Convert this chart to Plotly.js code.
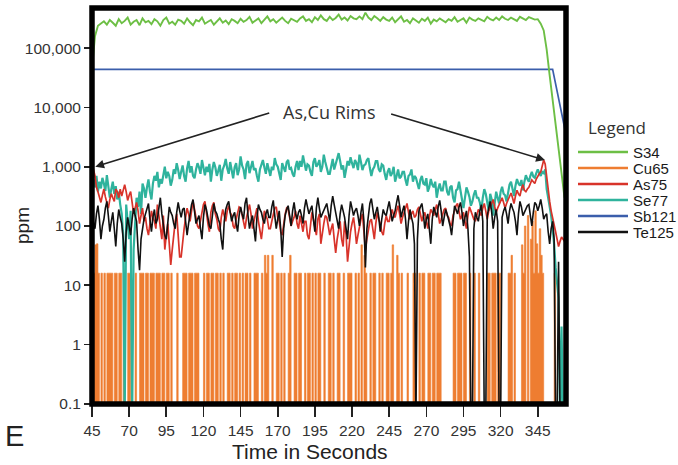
<!DOCTYPE html>
<html><head><meta charset="utf-8">
<script src="https://cdn.plot.ly/plotly-3.0.1.min.js"></script>
<style>html,body{margin:0;padding:0;background:#fff}#chart{width:678px;height:465px}</style>
</head><body><div id="chart"></div>
<script>
// ---------- DATA (ppm) ----------
// 2-second sampling grid 45..363 s (S34)
const time2s = Array.from({length:160}, (_, i) => 45 + 2*i);
// 1-second sampling grid 45..363 s (Cu65, As75, Se77, Te125)
const time1s = Array.from({length:319}, (_, i) => 45 + i);

const s34 = [
 45000,160000,240000,260000,285000,250000,300000,270000,240000,310000,
 265000,290000,330000,250000,280000,300000,245000,320000,275000,290000,
 255000,310000,285000,240000,300000,330000,260000,280000,250000,305000,
 290000,260000,320000,275000,245000,300000,285000,330000,260000,280000,
 300000,250000,285000,320000,270000,295000,255000,310000,290000,265000,
 315000,280000,300000,340000,270000,295000,320000,265000,300000,345000,
 285000,310000,270000,300000,330000,290000,265000,315000,300000,280000,
 320000,345000,290000,310000,275000,335000,300000,360000,310000,290000,
 340000,300000,325000,370000,305000,330000,295000,350000,320000,310000,
 345000,310000,400000,330000,300000,350000,320000,290000,335000,305000,
 290000,330000,275000,310000,345000,280000,300000,265000,320000,295000,
 270000,315000,290000,330000,260000,305000,285000,320000,300000,275000,
 310000,290000,335000,280000,300000,320000,270000,330000,305000,290000,
 320000,300000,285000,340000,310000,295000,330000,300000,345000,315000,
 300000,330000,310000,290000,340000,315000,300000,335000,320000,305000,
 310000,260000,200000,95000,35000,13000,5000,1900,700,300
];

const se77 = [
 520,610,450,700,380,560,430,650,520,390, 720,480,300,420,560,350,470,280,380,230,
 160,70,0.05,230,120,60,180,0.05,40,150, 300,210,380,160,520,430,300,450,610,380,
 280,520,700,580,820,450,620,520,760,1000, 640,820,700,480,600,900,760,1150,880,620,
 820,1050,700,560,940,1250,800,1020,700,640, 900,1150,980,760,1300,880,720,1000,820,1120,
 560,900,1200,980,700,860,1080,580,900,1050, 1350,940,760,1200,800,640,980,1150,720,900,
 1500,1050,900,620,1100,1250,780,980,1250,880, 950,700,560,900,1050,1300,980,760,1150,860,
 700,1000,880,1400,1100,1000,760,600,1150,920, 820,1200,1300,900,950,760,680,1000,1250,880,
 1250,1000,1550,1150,860,1100,1050,820,700,1200, 1400,1000,1100,1300,820,1000,1600,1200,980,760,
 760,1100,1350,900,1100,1400,1700,1250,900,1050, 650,900,1250,1050,1450,1150,950,1300,1150,880,
 1600,1200,880,1050,1100,1300,1400,950,700,900, 1000,1250,1250,900,820,1100,1050,760,600,820,
 950,700,780,1000,560,700,900,640,680,820, 820,600,480,700,740,900,560,700,650,520,
 420,600,700,520,500,640,380,450,620,500, 450,560,300,420,520,400,400,560,560,380,
 330,450,480,300,250,400,420,560,360,280, 200,330,450,380,310,220,260,340,400,300,
 300,250,180,300,420,350,260,180,350,280, 150,250,380,300,240,380,460,350,330,260,
 380,500,560,420,320,480,620,520,480,600, 400,560,720,620,560,700,820,680,650,780,
 900,780,700,820,780,900,420,300,220,150, 90,50,20,10,6,0.05,2,0.05,0.05
];

const as75 = [
 1050,900,700,450,380,300,250,330,420,310, 260,200,280,350,300,260,420,380,300,420,
 320,400,500,380,270,330,380,250,160,200, 250,180,110,150,200,120,140,90,70,110,
 180,140,120,90,230,150,90,60,150,40, 70,110,50,22,40,70,120,160,60,30,
 30,60,90,140,200,160,120,180,260,190, 140,100,90,130,180,230,260,150,110,80,
 170,220,250,160,130,90,80,140,190,150, 120,180,220,170,150,100,90,130,170,210,
 200,150,110,90,140,190,230,160,90,120, 160,200,120,90,60,100,180,150,130,90,
 90,120,150,200,210,140,120,80,70,110, 160,200,190,140,100,120,140,180,110,90,
 150,110,80,120,120,70,60,100,170,130, 100,70,130,160,50,80,110,150,140,100,
 70,90,110,60,35,60,90,120,60,45, 120,70,25,50,80,110,140,90,50,70,
 100,130,160,90,40,60,90,120,130,80, 60,110,170,130,110,80,70,110,150,120,
 120,160,190,150,140,180,220,160,110,140, 170,210,240,170,130,160,180,140,150,190,
 210,160,120,150,170,120,90,140,190,170, 150,190,230,160,110,130,160,190,200,150,
 140,110,100,150,180,220,240,170,130,150, 170,120,90,150,210,180,150,130,120,160,
 190,170,150,200,240,180,130,180,210,250, 280,210,170,200,230,280,300,250,200,240,
 280,320,360,300,240,320,400,350,320,420, 500,400,380,420,450,520,600,560,520,620,
 700,760,820,1000,1300,1100,650,400,260,180, 130,100,80,60,45,55,65,60,55
];

const te125 = [
 150,120,90,160,220,130,60,100,130,200, 260,150,80,120,170,90,45,110,190,140,
 110,60,25,80,140,100,70,130,200,150, 120,40,18,60,90,130,160,200,240,130,
 80,140,190,110,130,200,300,160,100,70, 60,130,210,170,150,110,90,170,250,180,
 140,190,200,120,70,110,170,230,280,160, 110,130,150,90,60,140,230,190,130,100,
 90,170,240,180,160,130,110,60,40,120, 190,230,260,170,120,150,170,110,80,150,
 210,160,130,240,300,150,90,120,150,90, 55,140,230,190,170,130,110,160,190,140,
 140,210,270,150,90,130,180,90,30,90, 150,190,220,150,100,180,250,160,130,170,
 190,150,110,200,280,210,160,190,220,130, 80,200,300,200,140,160,180,210,240,170,
 120,220,320,230,170,120,90,160,230,180, 140,90,60,150,260,200,150,180,200,150,
 100,170,240,120,20,90,170,240,290,180, 130,170,210,140,80,130,190,160,150,200,
 260,180,120,150,180,250,330,220,140,180, 220,130,60,120,190,140,110,50,0.05,60,
 180,210,240,160,90,130,160,90,50,130, 210,170,140,210,270,180,100,140,190,160,
 130,100,70,150,220,190,160,210,250,170, 100,140,180,90,30,0.05,0.05,90,170,140,
 120,180,230,120,0.05,0.05,150,200,260,170, 90,140,190,120,0.05,0.05,140,180,210,160,
 110,180,240,200,170,120,70,160,260,210, 150,170,200,220,230,160,100,170,250,230,
 180,220,280,200,130,150,160,80,50,90, 120,60,0.05,0.05,25,0.05,0.05,0.05,0.05
];

const timeSb121 = [44, 45.5, 355, 364];
const sb121 = [300, 44000, 44000, 3500];

const cu65 = [
 16,16,48,50,16,0.01,16,0.01,16,0.01, 16,16,16,16,0.01,16,16,0.01,16,16,
 0.01,16,0.01,0.01,16,16,0.01,0.01,0.01,16, 0.01,0.01,16,16,16,0.01,16,16,0.01,16,
 16,16,0.01,16,16,16,0.01,16,16,0.01, 16,16,0.01,16,0.01,0.01,0.01,16,0.01,0.01,
 0.01,16,16,16,0.01,16,16,16,0.01,16, 16,16,0.01,0.01,0.01,16,0.01,16,16,0.01,
 16,16,0.01,16,16,0.01,16,0.01,16,0.01, 0.01,16,16,0.01,16,0.01,16,16,0.01,16,
 0.01,16,0.01,16,16,0.01,16,0.01,0.01,16, 16,16,0.01,0.01,16,0.01,32,16,32,0.01,
 0.01,32,0.01,0.01,16,16,0.01,16,0.01,16, 0.01,0.01,16,32,0.01,0.01,16,16,0.01,16,
 16,0.01,0.01,16,0.01,16,16,0.01,16,0.01, 16,0.01,16,16,0.01,0.01,16,0.01,0.01,16,
 16,0.01,16,0.01,0.01,16,16,0.01,0.01,16, 0.01,0.01,16,16,16,0.01,0.01,16,0.01,16,
 0.01,48,0.01,32,16,0.01,0.01,16,0.01,16, 16,0.01,0.01,16,0.01,16,0.01,0.01,16,16,
 0.01,16,48,0.01,0.01,32,16,0.01,16,0.01, 0.01,0.01,16,0.01,0.01,0.01,16,16,0.01,0.01,
 16,0.01,16,16,0.01,0.01,16,16,0.01,16, 16,0.01,16,16,16,0.01,0.01,0.01,0.01,0.01,
 0.01,0.01,0.01,16,16,0.01,16,16,16,0.01, 16,16,0.01,0.01,16,0.01,0.01,16,0.01,0.01,
 16,0.01,0.01,0.01,0.01,0.01,16,16,0.01,16, 16,16,0.01,16,16,0.01,0.01,0.01,0.01,0.01,
 16,16,32,0.01,16,0.01,0.01,0.01,0.01,48, 16,100,0.01,150,0.01,60,120,16,180,50,
 16,90,32,16,0.01,0.01,0.01,0.01,0.01,0.01, 0.01,16,0.01,0.01,0.01,0.01,0.01,0.01,0.01
];

const xTickVals = [45,70,95,120,145,170,195,220,245,270,295,320,345];
const yTickVals = [0.1,1,10,100,1000,10000,100000];
const yTickText = ['0.1','1','10','100','1,000','10,000','100,000'];

const seriesNames  = ['S34','Cu65','As75','Se77','Sb121','Te125'];
const seriesColors = ['#6dbf45','#ee7d31','#d8332a','#2fb39d','#3b5eab','#111111'];

// ---------- TRACES ----------
const col = n => seriesColors[seriesNames.indexOf(n)];
const traces = [
 {x: time1s, y: cu65, name:'Cu65', type:'scatter', mode:'lines',
  line:{shape:'hv', color: col('Cu65'), width:0.6}, fill:'tozeroy', fillcolor: col('Cu65')},
 {x: time1s, y: se77, name:'Se77', type:'scatter', mode:'lines', line:{color: col('Se77'), width:2.2}},
 {x: time1s, y: as75, name:'As75', type:'scatter', mode:'lines', line:{color: col('As75'), width:1.7}},
 {x: time1s, y: te125, name:'Te125', type:'scatter', mode:'lines', line:{color: col('Te125'), width:1.6}},
 {x: timeSb121, y: sb121, name:'Sb121', type:'scatter', mode:'lines', line:{color: col('Sb121'), width:1.7}},
 {x: time2s, y: s34, name:'S34', type:'scatter', mode:'lines', line:{color: col('S34'), width:1.9}}
];

// ---------- LAYOUT ----------
const L = 92, R = 112, T = 8, B = 61, W = 678, H = 465;
const pw = W - L - R, ph = H - T - B;
const px = x => (x - L) / pw;          // pixel -> paper
const py = y => (H - B - y) / ph;

const shapes = [
 {type:'rect', xref:'paper', yref:'paper', x0:0, x1:1, y0:0, y1:1,
  line:{color:'#000', width:5.5}, layer:'above'}
];
const annotations = [
 {xref:'paper', yref:'paper', x:px(22), y:py(226), xanchor:'center', yanchor:'middle',
  text:'ppm', textangle:-90, showarrow:false,
  font:{family:'Liberation Sans, Arial', size:19, color:'#222'}},
 {xref:'paper', yref:'paper', x:px(310), y:py(452), xanchor:'center', yanchor:'middle',
  text:'Time in Seconds', showarrow:false,
  font:{family:'Liberation Sans, Arial', size:21, color:'#222'}},
 {xref:'paper', yref:'paper', x:px(14), y:py(436), xanchor:'center', yanchor:'middle',
  text:'E', showarrow:false,
  font:{family:'Liberation Sans, Arial', size:29, color:'#222'}},
 {xref:'x', yref:'y', x:204.6, y:3.924, xanchor:'center', yanchor:'middle',
  text:'As,Cu Rims', showarrow:false,
  font:{family:'Open Sans', size:18, color:'#333'}},
 {xref:'x', yref:'y', x:47.2, y:3.0, axref:'x', ayref:'y', ax:166.3, ay:3.924, text:' ',
  showarrow:true, arrowhead:2, arrowsize:1.1, arrowwidth:1.6, arrowcolor:'#222', standoff:0},
 {xref:'x', yref:'y', x:349.8, y:3.113, axref:'x', ayref:'y', ax:244.3, ay:3.906, text:' ',
  showarrow:true, arrowhead:2, arrowsize:1.1, arrowwidth:1.6, arrowcolor:'#222', standoff:0},
 {xref:'paper', yref:'paper', x:px(617), y:py(127), xanchor:'center', yanchor:'middle',
  text:'Legend', showarrow:false,
  font:{family:'Open Sans', size:17, color:'#333'}}
];
seriesNames.forEach((n, i) => {
  const yc = 152 + 16 * i;
  shapes.push({type:'line', xref:'paper', yref:'paper', x0:px(578), x1:px(628), y0:py(yc), y1:py(yc),
    line:{color: seriesColors[i], width:2.5}});
  annotations.push({xref:'paper', yref:'paper', x:px(631), y:py(yc), xanchor:'left', yanchor:'middle',
    text:n, showarrow:false, font:{family:'Liberation Sans, Arial', size:15, color:'#1a1a1a'}});
});

const layout = {
 width: W, height: H,
 margin: {l:L, r:R, t:T, b:B, pad:0},
 paper_bgcolor:'#fff', plot_bgcolor:'#fff',
 showlegend:false,
 font:{family:'Liberation Sans, Arial', color:'#222'},
 xaxis:{range:[45,364], tickvals:xTickVals, ticks:'outside', ticklen:12, tickwidth:1.6, tickcolor:'#222',
   showgrid:false, zeroline:false, showline:false,
   tickfont:{family:'Liberation Sans, Arial', size:15.5, color:'#333'}},
 yaxis:{type:'log', range:[-1.005,5.68], tickvals:yTickVals, ticktext:yTickText,
   ticks:'outside', ticklen:7, tickwidth:1.6, tickcolor:'#222',
   showgrid:false, zeroline:false, showline:false,
   tickfont:{family:'Liberation Sans, Arial', size:15.5, color:'#333'}},
 shapes: shapes,
 annotations: annotations
};

Plotly.newPlot('chart', traces, layout, {displayModeBar:false, staticPlot:true});
</script></body></html>
